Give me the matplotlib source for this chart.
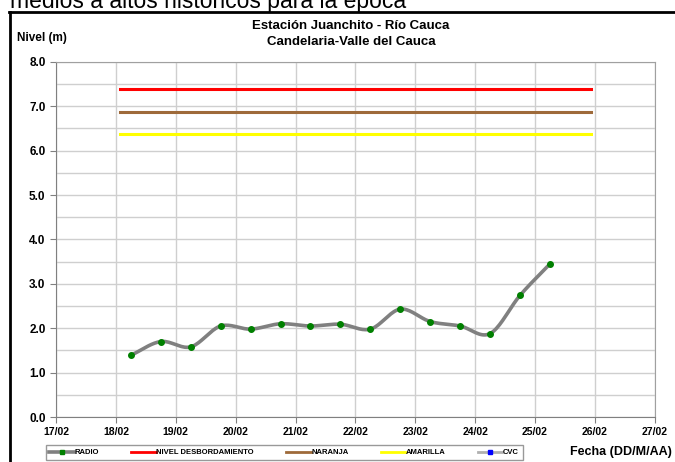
import numpy as np
import matplotlib
matplotlib.use('Agg')
from matplotlib import pyplot as plt
from matplotlib.lines import Line2D

plt.rcParams['font.family'] = ['Liberation Sans', 'DejaVu Sans']

# dias desde 17/02 (lecturas cada 12 h)
dias = [1.25, 1.75, 2.25, 2.75, 3.25, 3.75, 4.25, 4.75, 5.25, 5.75,
        6.25, 6.75, 7.25, 7.75, 8.25]
nivel_radio = [1.39, 1.70, 1.58, 2.05, 1.98, 2.10, 2.05, 2.09, 1.98, 2.43,
               2.15, 2.05, 1.88, 2.74, 3.45]
umbral_inicio = 1.07
umbral_fin = 8.93
nivel_desbordamiento = 7.38
nivel_naranja = 6.87
nivel_amarilla = 6.37
x_labels = ['17/02', '18/02', '19/02', '20/02', '21/02', '22/02',
            '23/02', '24/02', '25/02', '26/02', '27/02']


def suavizar(x, y, n=20):
    # curva suavizada tipo Excel (Catmull-Rom) que pasa por los puntos
    x = np.asarray(x, float)
    y = np.asarray(y, float)
    px = np.concatenate([[2 * x[0] - x[1]], x, [2 * x[-1] - x[-2]]])
    py = np.concatenate([[2 * y[0] - y[1]], y, [2 * y[-1] - y[-2]]])
    xs, ys = [], []
    t = np.linspace(0, 1, n)
    for i in range(1, len(px) - 2):
        for p, out in ((px, xs), (py, ys)):
            p0, p1, p2, p3 = p[i - 1], p[i], p[i + 1], p[i + 2]
            out.extend(0.5 * (2 * p1 + (-p0 + p2) * t
                              + (2 * p0 - 5 * p1 + 4 * p2 - p3) * t ** 2
                              + (-p0 + 3 * p1 - 3 * p2 + p3) * t ** 3))
    return xs, ys


fig = plt.figure(figsize=(6.75, 4.62), dpi=100)
fig.patch.set_facecolor('w')
ax = fig.add_axes([0.083, 0.0974, 0.887, 0.7686])

ax.set_xlim(0, 10)
ax.set_ylim(0, 8)
ax.set_yticks(np.arange(0, 8.1, 1.0))
ax.set_yticklabels(['%.1f' % v for v in np.arange(0, 8.1, 1.0)])
ax.set_yticks(np.arange(0, 8.1, 0.5), minor=True)
ax.set_xticks(range(11))
ax.set_xticklabels(x_labels)
ax.grid(which='both', color='#cfcfcf', lw=1)
ax.set_axisbelow(True)
ax.tick_params(axis='y', which='minor', length=0)
ax.tick_params(axis='both', which='major', length=4, color='#808080',
               labelsize=8.5)
for lab in ax.get_xticklabels() + ax.get_yticklabels():
    lab.set_fontweight('bold')
for lab in ax.get_xticklabels():
    lab.set_fontsize(7.5)
for s in ax.spines.values():
    s.set_color('#a0a0a0')
ax.spines['left'].set_color('#808080')
ax.spines['bottom'].set_color('#808080')

ax.plot([umbral_inicio, umbral_fin], [nivel_desbordamiento] * 2,
        color='#ff0000', lw=2.2)
ax.plot([umbral_inicio, umbral_fin], [nivel_naranja] * 2,
        color='#9e6a3a', lw=2.2)
ax.plot([umbral_inicio, umbral_fin], [nivel_amarilla] * 2,
        color='#ffff00', lw=2.2)
sx, sy = suavizar(dias, nivel_radio)
ax.plot(sx, sy, color='#808080', lw=2.6, solid_capstyle='round')
ax.plot(dias, nivel_radio, 'o', color='#008000', ms=4, mec='#008000')

fig.text(0.52, 1 - 26 / 462, 'Estación Juanchito - Río Cauca', ha='center',
         va='center', fontsize=9.5, fontweight='bold')
fig.text(0.52, 1 - 42 / 462, 'Candelaria-Valle del Cauca', ha='center',
         va='center', fontsize=9.5, fontweight='bold')
fig.text(0.025, 0.918, 'Nivel (m)', ha='left', va='center', fontsize=8.5,
         fontweight='bold')
fig.text(0.995, 0.022, 'Fecha (DD/M/AA)', ha='right', va='center',
         fontsize=9, fontweight='bold')

# texto del documento, cortado arriba
fig.text(0.015, 1 - 8 / 462, 'medios a altos históricos para la época',
         ha='left', va='baseline', fontsize=16.5)
# marco del grafico
fig.add_artist(Line2D([9 / 675, 1], [1 - 12 / 462] * 2, color='k', lw=2))
fig.add_artist(Line2D([10 / 675] * 2, [0, 1 - 12 / 462], color='k', lw=2))

handles = [
    Line2D([], [], color='#808080', lw=2.6, marker='s', ms=2.5,
           mfc='#008000', mec='#008000'),
    Line2D([], [], color='#ff0000', lw=2),
    Line2D([], [], color='#9e6a3a', lw=2),
    Line2D([], [], color='#ffff00', lw=2),
    Line2D([], [], color='#b0b0b0', lw=2, marker='s', ms=2.5,
           mfc='#0000ff', mec='#0000ff'),
]
names = ['RADIO', 'NIVEL DESBORDAMIENTO', 'NARANJA', 'AMARILLA', 'CVC']
leg = fig.legend(handles, names, loc='upper center', ncol=5,
                 bbox_to_anchor=(0.421, 0.045), frameon=True, fancybox=False,
                 edgecolor='#808080', handlelength=3.2,
                 handletextpad=0.1, columnspacing=4.2, borderpad=0.5,
                 prop={'weight': 'bold', 'size': 5.5})
leg.get_frame().set_linewidth(1)

plt.savefig('out.png', dpi=100)
plt.close('all')
